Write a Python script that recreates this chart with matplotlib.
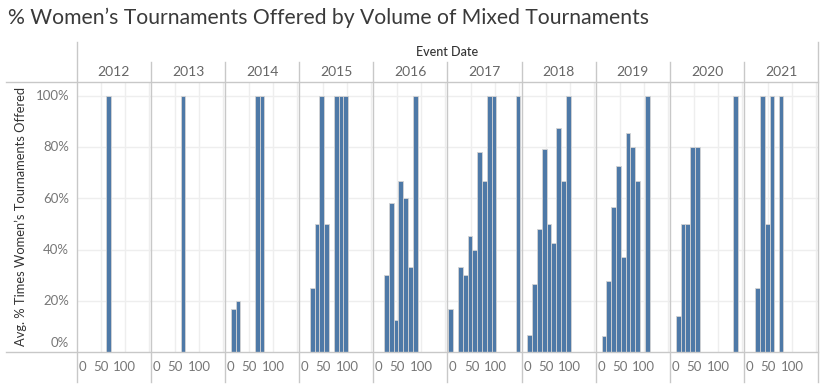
import matplotlib
matplotlib.use('Agg')
import matplotlib.pyplot as plt
from matplotlib.lines import Line2D

# --- data: volume of mixed tournaments (x) vs avg % women's offered (y) ---
years = ['2012', '2013', '2014', '2015', '2016', '2017', '2018', '2019', '2020', '2021']

vol_2012 = [67]
pct_2012 = [100]
vol_2013 = [67]
pct_2013 = [100]
vol_2014 = [17, 27, 67, 77]
pct_2014 = [16.7, 20, 100, 100]
vol_2015 = [27, 37, 47, 57, 77, 87, 97]
pct_2015 = [25, 50, 100, 50, 100, 100, 100]
vol_2016 = [27, 37, 47, 57, 67, 77, 87]
pct_2016 = [30, 58.3, 12.5, 66.7, 60, 33.3, 100]
vol_2017 = [7, 27, 37, 47, 57, 67, 77, 87, 97, 147]
pct_2017 = [16.7, 33.3, 30.3, 45.5, 40, 78, 66.7, 100, 100, 100]
vol_2018 = [17, 27, 37, 47, 57, 67, 77, 87, 97]
pct_2018 = [6.9, 26.8, 48.1, 79.1, 50, 42.7, 87.5, 66.7, 100]
vol_2019 = [17, 27, 37, 47, 57, 67, 77, 87, 107]
pct_2019 = [6.5, 28, 56.6, 72.8, 37.2, 85.7, 80, 66.7, 100]
vol_2020 = [17, 27, 37, 47, 57, 137]
pct_2020 = [14.3, 50, 50, 80, 80, 100]
vol_2021 = [28, 38, 48, 58, 77]
pct_2021 = [25, 100, 50, 100, 100]

vols = [vol_2012, vol_2013, vol_2014, vol_2015, vol_2016,
        vol_2017, vol_2018, vol_2019, vol_2020, vol_2021]
pcts = [pct_2012, pct_2013, pct_2014, pct_2015, pct_2016,
        pct_2017, pct_2018, pct_2019, pct_2020, pct_2021]

x_ticks = [0, 50, 100]
y_ticks = [0, 20, 40, 60, 80, 100]

# --- layout in pixels (figure is 824 x 387) ---
W, H = 824, 387
LEFT, RIGHT = 76.7, 818.3
TOP, BOTTOM = 82.3, 352.3
PANEL_W = (RIGHT - LEFT) / len(years)

BAR_COLOR = '#4e79a7'
LINE_COLOR = '#c8c8c8'
GRID_COLOR = '#eeeeee'
FONT = 'Lato'

fig = plt.figure(figsize=(W / 100, H / 100), dpi=100)


def fx(px):
    return px / W


def fy(py):
    return 1 - py / H


def hline(y, x0, x1):
    fig.add_artist(Line2D([fx(x0), fx(x1)], [fy(y), fy(y)], color=LINE_COLOR,
                          lw=1.0, transform=fig.transFigure, zorder=5))


def vline(x, y0, y1):
    fig.add_artist(Line2D([fx(x), fx(x)], [fy(y0), fy(y1)], color=LINE_COLOR,
                          lw=1.0, transform=fig.transFigure, zorder=5))


for i, (year, xs, ys) in enumerate(zip(years, vols, pcts)):
    left = LEFT + i * PANEL_W
    ax = fig.add_axes([fx(left), fy(BOTTOM), PANEL_W / W, (BOTTOM - TOP) / H])
    ax.bar(xs, ys, width=10, color=BAR_COLOR, edgecolor='#d4d4d4', linewidth=0.6, zorder=3)
    ax.set_xlim(0, PANEL_W / 0.48)
    ax.set_ylim(0, 105.3)
    for gx in [50, 100, 150]:
        ax.axvline(gx, color=GRID_COLOR, lw=1.0, zorder=1)
    for gy in y_ticks[1:]:
        ax.axhline(gy, color=GRID_COLOR, lw=1.0, zorder=1)
    ax.set_xticks([])
    ax.set_yticks([])
    for s in ax.spines.values():
        s.set_visible(False)

    # x tick labels (Tableau nudges the 0 label inside the pane)
    for t in x_ticks:
        px = left + t * 0.48
        ha = 'center'
        if t == 0:
            px = left + 1.5
            ha = 'left'
        fig.text(fx(px), fy(367), str(t), ha=ha, va='center', fontsize=9.5,
                 color='#777777', family=FONT)

    # year header
    fig.text(fx(left + PANEL_W / 2), fy(72), year, ha='center', va='center',
             fontsize=10, color='#666666', family=FONT)
    if i > 0:
        vline(left, 62.3, 382)

# y tick labels
for t in y_ticks:
    py = BOTTOM - t * 2.563
    if t == 0:
        py = 343
    fig.text(fx(69), fy(py), f'{t}%', ha='right', va='center', fontsize=9.5,
             color='#777777', family=FONT)

# frame lines
hline(TOP, 6, RIGHT)
hline(BOTTOM, 6, RIGHT)
vline(LEFT, 42, 382)
vline(RIGHT, 42, 382)

fig.text(fx((LEFT + RIGHT) / 2), fy(52), 'Event Date', ha='center', va='center',
         fontsize=9, color='#333333', family=FONT, fontweight='medium')
fig.text(fx(21), fy(217), 'Avg. % Times Women\u2019s Tournaments Offered', rotation=90,
         ha='center', va='center', fontsize=9.3, color='#333333', family=FONT)
fig.text(fx(8), fy(18), '% Women\u2019s Tournaments Offered by Volume of Mixed Tournaments',
         ha='left', va='center', fontsize=15.2, color='#3a3a3a', family=FONT)

fig.savefig('out.png', dpi=100)
